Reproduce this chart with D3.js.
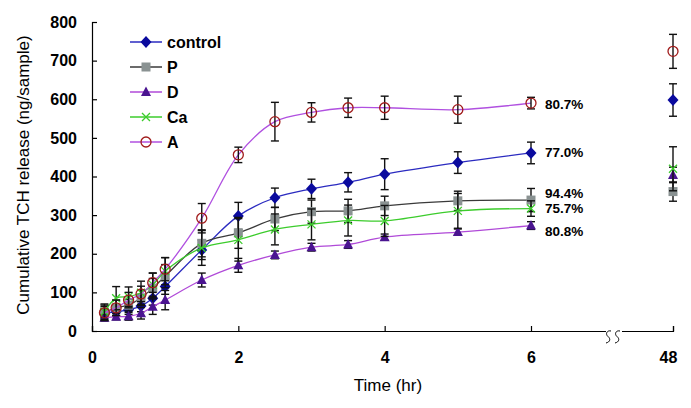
<!DOCTYPE html>
<html><head><meta charset="utf-8">
<script src="https://cdn.jsdelivr.net/npm/d3@7"></script>
<style>body{margin:0;background:#fff}svg{display:block}text{font-family:Arial,"Liberation Sans",sans-serif}</style>
</head><body><svg id="c" width="691" height="408"></svg>
<script>
const times = [0.17,0.33,0.5,0.67,0.83,1,1.5,2,2.5,3,3.5,4,5,6];
const lastTime = 48;
const controlVals = [45,50,55,65,85,115,210,298,345,368,385,406,436,461];
const controlErr  = [10,12,12,15,18,20,25,35,25,25,25,40,28,28];
const controlLast = [598,42];
const pVals = [48,60,67,86,111,142,227,254,290,309,311,324,337,339];
const pErr  = [15,20,15,20,25,30,35,40,30,30,30,25,25,30];
const pLast = [361,25];
const dVals = [34,37,38,46,63,80,132,170,197,217,224,243,256,273];
const dErr  = [8,8,10,15,20,25,18,18,10,10,10,8,8,10];
const dLast = [404,20];
const caVals = [50,85,89,99,120,155,215,236,263,276,286,285,311,317];
const caErr  = [20,30,25,30,30,35,45,55,40,40,40,40,45,20];
const caLast = [420,57];
const aVals = [47,60,80,96,125,160,292,456,542,566,578,578,573,590];
const aErr  = [20,20,20,20,25,30,38,20,50,25,25,30,35,15];
const aLast = [724,44];
const seriesNames = ["control","P","D","Ca","A"];
const percentLabels = ["77.0%","94.4%","80.8%","75.7%","80.7%"];
const xTicks = [0,2,4,6,48];
const yTicks = [0,100,200,300,400,500,600,700,800];

const series = [
  {name:seriesNames[0], vals:controlVals, err:controlErr, last:controlLast, line:"#2b2bc0", mark:"#0a0a9e", shape:"diamond", pct:percentLabels[0], py:152},
  {name:seriesNames[1], vals:pVals, err:pErr, last:pLast, line:"#3a3a3a", mark:"#8a9292", shape:"square", pct:percentLabels[1], py:193},
  {name:seriesNames[2], vals:dVals, err:dErr, last:dLast, line:"#b04ad8", mark:"#4a1490", shape:"triangle", pct:percentLabels[2], py:231},
  {name:seriesNames[3], vals:caVals, err:caErr, last:caLast, line:"#3ccc2c", mark:"#3ccc2c", shape:"x", pct:percentLabels[3], py:208},
  {name:seriesNames[4], vals:aVals, err:aErr, last:aLast, line:"#b050e0", mark:"#a01a1a", shape:"circle", pct:percentLabels[4], py:104}
];

const svg = d3.select("#c");
const x = d3.scaleLinear().domain([0,6,48]).range([92,531,673]);
const y = d3.scaleLinear().domain([0,800]).range([331,22]);

// axes
const gx = svg.append("g").attr("transform","translate(0,331)")
  .call(d3.axisBottom(x).tickValues(xTicks).tickSize(-5).tickPadding(21).tickFormat(d3.format("d")));
const gy = svg.append("g").attr("transform","translate(92,0)")
  .call(d3.axisLeft(y).tickValues(yTicks).tickSize(-5).tickPadding(15));
[gx,gy].forEach(g=>{
  g.select(".domain").attr("stroke","#000").attr("stroke-width",1.2);
  g.selectAll(".tick line").attr("stroke","#000").attr("stroke-width",1.2);
  g.selectAll(".tick text").attr("fill","#000").style("font-size","16px").style("font-weight","bold");
});
gx.selectAll(".tick text").filter(d=>d===48).attr("dx",-5);
// axis break
svg.append("rect").attr("x",606).attr("y",328).attr("width",16).attr("height",6).attr("fill","#fff");
[606, 615].forEach(sx=>{
  svg.append("path").attr("d",`M${sx+5},331 C${sx+1},330 ${sx-1},334 ${sx+2},336.5 C${sx+5},339 ${sx+4},342 ${sx},343`)
    .attr("fill","none").attr("stroke","#000").attr("stroke-width",1);
});

// axis titles
svg.append("text").attr("x",388).attr("y",391).attr("text-anchor","middle")
  .style("font-size","17px").text("Time (hr)");
svg.append("text").attr("transform","translate(29,175) rotate(-90)").attr("text-anchor","middle")
  .style("font-size","17px").text("Cumulative TCH release (ng/sample)");

function marker(g, shape, cx, cy, s){
  if(shape==="diamond"){
    g.append("path").attr("d",`M${cx},${cy-6}L${cx+5.5},${cy}L${cx},${cy+6}L${cx-5.5},${cy}Z`).attr("fill",s.mark);
  } else if(shape==="square"){
    g.append("rect").attr("x",cx-4.5).attr("y",cy-4.5).attr("width",9).attr("height",9).attr("fill",s.mark);
  } else if(shape==="triangle"){
    g.append("path").attr("d",`M${cx},${cy-5.5}L${cx+5},${cy+4}L${cx-5},${cy+4}Z`).attr("fill",s.mark);
  } else if(shape==="x"){
    g.append("path").attr("d",`M${cx-4},${cy-4}L${cx+4},${cy+4}M${cx-4},${cy+4}L${cx+4},${cy-4}`).attr("stroke",s.mark).attr("stroke-width",1.3);
  } else {
    g.append("circle").attr("cx",cx).attr("cy",cy).attr("r",5).attr("fill","none").attr("stroke",s.mark).attr("stroke-width",1.3);
  }
}

const line = d3.line().x(d=>x(d[0])).y(d=>y(d[1])).curve(d3.curveCatmullRom.alpha(0.5));

series.forEach(s=>{
  const g = svg.append("g");
  const pts = times.map((t,i)=>[t,s.vals[i],s.err[i]]);
  g.append("path").attr("d",line(pts)).attr("fill","none").attr("stroke",s.line).attr("stroke-width",1.3);
  const all = pts.concat([[lastTime,s.last[0],s.last[1]]]);
  all.forEach(p=>{
    const cx=x(p[0]), y1=y(p[1]+p[2]), y2=y(p[1]-p[2]);
    g.append("line").attr("x1",cx).attr("x2",cx).attr("y1",y1).attr("y2",y2).attr("stroke","#111").attr("stroke-width",1.4);
    [y1,y2].forEach(yy=>g.append("line").attr("x1",cx-4).attr("x2",cx+4).attr("y1",yy).attr("y2",yy).attr("stroke","#111").attr("stroke-width",1.4));
  });
  s.g = g; s.all = all;
});
series.forEach(s=>{
  s.all.forEach(p=>marker(s.g, s.shape, x(p[0]), y(p[1]), s));
});

// percent labels
series.forEach(s=>{
  svg.append("text").attr("x",545).attr("y",s.py+5).style("font-size","13.5px").style("font-weight","bold").text(s.pct);
});

// legend
series.forEach((s,i)=>{
  const ly = 42 + i*25;
  const g = svg.append("g");
  g.append("line").attr("x1",130).attr("x2",162).attr("y1",ly).attr("y2",ly).attr("stroke",s.line).attr("stroke-width",1.5);
  marker(g, s.shape, 146, ly, s);
  g.append("text").attr("x",167).attr("y",ly+6).style("font-size","16px").style("font-weight","bold").text(s.name);
});
</script></body></html>
